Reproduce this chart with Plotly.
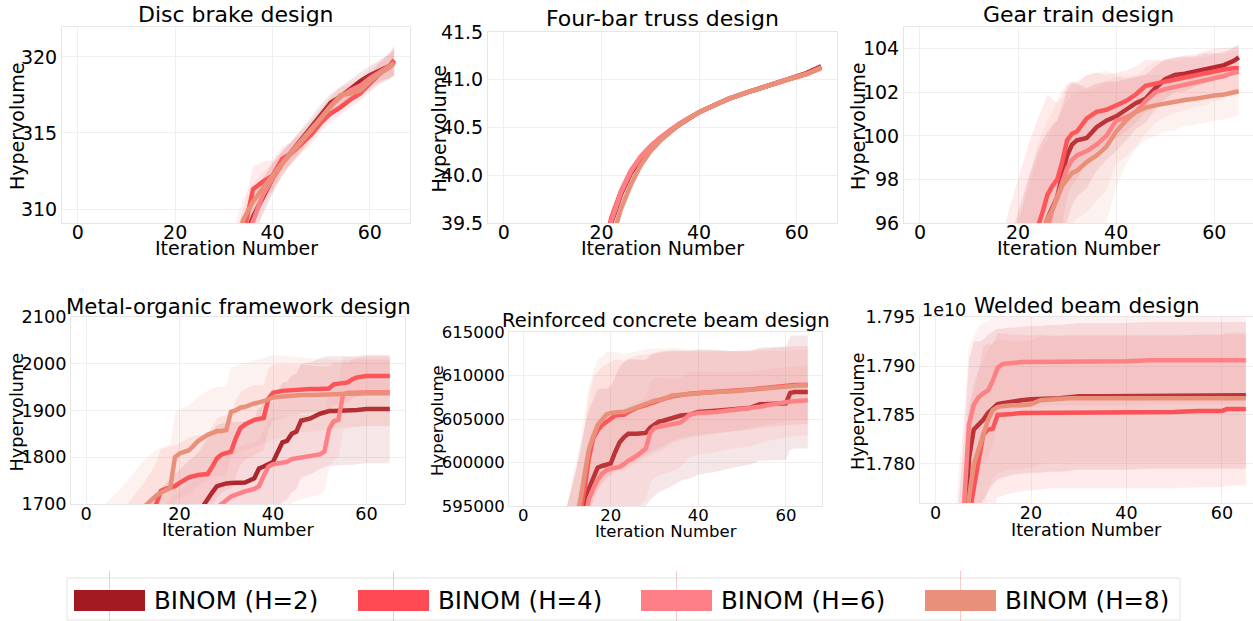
import plotly.graph_objects as go

W, H = 1253, 621

SERIES = ["BINOM (H=2)", "BINOM (H=4)", "BINOM (H=6)", "BINOM (H=8)"]
COLORS = ["#A31A22", "#FF4A53", "#FF7F86", "#E8907A"]
X_TICKS = [0, 20, 40, 60]

# ---------------- Disc brake design ----------------
disc_x = [30, 32, 34, 36, 38, 40, 42, 44, 46, 48, 50, 52, 54, 56, 58, 60, 62, 64, 65]
disc_h2 = [304.5, 306.0, 307.8, 309.5, 310.8, 312.0, 313.0, 313.8, 314.6, 315.5, 316.3, 317.0, 317.4, 317.9, 318.4, 318.8, 319.1, 319.4, 319.7]
disc_h4 = [305.0, 306.5, 308.3, 311.3, 311.8, 312.2, 313.3, 313.7, 314.3, 314.9, 315.7, 316.3, 316.7, 317.2, 317.6, 318.3, 318.9, 319.4, 319.8]
disc_h6 = [304.5, 306.0, 307.5, 309.2, 310.9, 312.0, 313.0, 313.8, 314.5, 315.2, 316.0, 316.8, 317.4, 317.8, 318.1, 318.6, 319.0, 319.4, 319.6]
disc_h8 = [305.5, 307.3, 309.3, 310.5, 311.4, 312.2, 313.0, 313.7, 314.4, 315.2, 316.0, 316.8, 317.5, 317.6, 317.8, 318.4, 318.9, 319.3, 319.6]
disc_s2 = [1.6, 1.6, 1.5, 1.4, 1.2, 1.0, 0.8, 0.7, 0.7, 0.6, 0.6, 0.6, 0.6, 0.6, 0.6, 0.6, 0.7, 0.8, 0.9]
disc_s4 = [1.8, 1.8, 1.7, 1.5, 1.3, 1.0, 0.8, 0.7, 0.6, 0.6, 0.6, 0.6, 0.5, 0.5, 0.5, 0.6, 0.7, 0.8, 1.0]
disc_s6 = [1.5, 1.5, 1.4, 1.3, 1.1, 0.9, 0.8, 0.7, 0.7, 0.6, 0.6, 0.6, 0.6, 0.6, 0.6, 0.6, 0.7, 0.8, 0.9]
disc_s8 = [1.5, 1.5, 1.4, 1.2, 1.0, 0.9, 0.8, 0.7, 0.7, 0.6, 0.6, 0.6, 0.6, 0.5, 0.5, 0.6, 0.7, 0.8, 0.8]

# ---------------- Four-bar truss design ----------------
four_x = [18, 20, 22, 24, 26, 28, 30, 32, 34, 36, 38, 40, 43, 46, 50, 54, 58, 62, 65]
four_h2 = [38.6, 39.1, 39.5, 39.8, 40.02, 40.17, 40.29, 40.38, 40.46, 40.53, 40.60, 40.66, 40.73, 40.80, 40.87, 40.94, 41.00, 41.07, 41.14]
four_h4 = [38.7, 39.15, 39.55, 39.83, 40.04, 40.19, 40.30, 40.39, 40.47, 40.54, 40.60, 40.66, 40.73, 40.80, 40.87, 40.94, 41.00, 41.06, 41.13]
four_h6 = [38.65, 39.12, 39.52, 39.82, 40.04, 40.19, 40.30, 40.39, 40.47, 40.54, 40.60, 40.66, 40.73, 40.80, 40.87, 40.94, 41.00, 41.06, 41.13]
four_h8 = [38.4, 38.9, 39.3, 39.65, 39.9, 40.1, 40.25, 40.36, 40.45, 40.53, 40.60, 40.66, 40.73, 40.80, 40.87, 40.94, 41.00, 41.06, 41.12]
four_s2 = [0.15, 0.12, 0.10, 0.08, 0.06, 0.05, 0.04, 0.04, 0.03, 0.03, 0.03, 0.02, 0.02, 0.02, 0.02, 0.02, 0.02, 0.02, 0.02]
four_s4 = [0.15, 0.12, 0.10, 0.08, 0.06, 0.05, 0.04, 0.04, 0.03, 0.03, 0.03, 0.02, 0.02, 0.02, 0.02, 0.02, 0.02, 0.02, 0.02]
four_s6 = [0.15, 0.12, 0.10, 0.08, 0.06, 0.05, 0.04, 0.04, 0.03, 0.03, 0.03, 0.02, 0.02, 0.02, 0.02, 0.02, 0.02, 0.02, 0.02]
four_s8 = [0.16, 0.13, 0.11, 0.09, 0.07, 0.05, 0.04, 0.04, 0.03, 0.03, 0.03, 0.02, 0.02, 0.02, 0.02, 0.02, 0.02, 0.02, 0.02]

# ---------------- Gear train design ----------------
gear_x = [16, 18, 20, 22, 24, 25, 26, 27, 28, 29, 30, 31, 32, 34, 36, 38, 40, 42, 44, 46, 48, 50, 52, 54, 56, 58, 60, 62, 64, 65]
gear_h2 = [87, 89, 91, 93, 94.8, 95.5, 96.2, 96.7, 97.2, 98.2, 99.1, 99.6, 99.8, 99.9, 100.4, 100.7, 100.9, 101.2, 101.5, 101.7, 102.2, 102.6, 102.8, 102.85, 102.95, 103.1, 103.2, 103.25, 103.45, 103.6]
gear_h4 = [88, 90, 92, 94, 95.8, 96.5, 97.3, 97.7, 98.0, 98.8, 99.8, 100.1, 100.2, 100.8, 101.1, 101.2, 101.4, 101.6, 101.9, 102.3, 102.4, 102.5, 102.6, 102.7, 102.75, 102.9, 103.0, 103.05, 103.1, 103.1]
gear_h6 = [86.5, 88.5, 90.5, 92.5, 94.5, 95.2, 95.8, 96.6, 97.2, 97.9, 98.5, 98.9, 99.1, 99.3, 99.6, 100.0, 100.7, 100.85, 101.1, 101.6, 102.0, 102.15, 102.25, 102.35, 102.45, 102.5, 102.65, 102.75, 102.9, 102.95]
gear_h8 = [87, 89, 91, 93, 95, 95.6, 96.2, 96.6, 97.2, 97.7, 98.0, 98.3, 98.4, 98.8, 99.1, 99.5, 100.2, 100.7, 101.1, 101.3, 101.4, 101.5, 101.55, 101.65, 101.7, 101.8, 101.85, 101.9, 102.0, 102.05]
gear_s2 = [6.0, 6.0, 5.5, 5.0, 4.5, 4.3, 4.0, 3.8, 3.5, 3.2, 3.0, 2.8, 2.6, 2.3, 2.0, 1.8, 1.6, 1.4, 1.2, 1.1, 1.0, 0.9, 0.8, 0.8, 0.7, 0.7, 0.6, 0.6, 0.6, 0.6]
gear_s4 = [6.5, 6.5, 6.0, 5.5, 5.0, 4.8, 4.6, 4.0, 3.5, 3.0, 2.6, 2.4, 2.2, 2.0, 1.8, 1.6, 1.5, 1.4, 1.3, 1.2, 1.1, 1.0, 1.0, 1.0, 1.0, 1.0, 1.0, 1.0, 1.0, 1.0]
gear_s6 = [6.0, 6.0, 5.5, 5.0, 4.5, 4.3, 4.0, 3.8, 3.5, 3.3, 3.1, 3.0, 2.9, 2.8, 2.6, 2.5, 2.0, 1.8, 1.6, 1.5, 1.4, 1.3, 1.2, 1.2, 1.1, 1.1, 1.1, 1.0, 1.0, 1.0]
gear_s8 = [5.5, 5.5, 5.0, 4.8, 4.6, 4.6, 4.5, 4.5, 4.5, 4.4, 4.3, 4.2, 4.1, 4.0, 3.8, 3.5, 2.6, 2.0, 1.7, 1.5, 1.4, 1.3, 1.3, 1.2, 1.2, 1.2, 1.15, 1.15, 1.1, 1.1]

# ---------------- Metal-organic framework design ----------------
mof_x = [0, 4, 8, 12, 14, 15, 16, 17, 18, 19, 20, 22, 24, 26, 27, 28, 29, 30, 31, 32, 33, 34, 36, 37, 38,
         39, 40, 42, 43, 44, 45, 46, 48, 50, 51, 52, 53, 54, 55, 56, 57, 58, 60, 62, 65]
mof_h2 = [1450, 1490, 1530, 1570, 1590, 1600, 1610, 1620, 1630, 1640, 1650, 1665, 1680, 1712, 1725,
          1738, 1742, 1744, 1745, 1746, 1746, 1746, 1755, 1776, 1780, 1785, 1790, 1832, 1835, 1850,
          1855, 1878, 1883, 1893, 1897, 1899, 1899, 1899, 1899, 1900, 1900, 1901, 1903, 1903, 1903]
mof_h4 = [1520, 1560, 1600, 1650, 1680, 1700, 1728, 1732, 1736, 1738, 1745, 1757, 1762, 1764, 1780,
          1798, 1806, 1810, 1812, 1840, 1862, 1870, 1880, 1882, 1884, 1925, 1938, 1942, 1943, 1944,
          1945, 1946, 1946, 1946, 1946, 1947, 1956, 1957, 1958, 1960, 1967, 1971, 1974, 1974, 1974]
mof_h6 = [1450, 1480, 1510, 1550, 1570, 1580, 1590, 1600, 1610, 1620, 1630, 1645, 1660, 1675, 1685,
          1692, 1700, 1708, 1716, 1720, 1724, 1727, 1732, 1738, 1760, 1780, 1785, 1788, 1790, 1796,
          1798, 1800, 1802, 1806, 1812, 1860, 1877, 1880, 1935, 1938, 1938, 1939, 1939, 1939, 1939]
mof_h8 = [1560, 1600, 1640, 1690, 1710, 1718, 1724, 1728, 1734, 1800, 1808, 1815, 1835, 1848, 1853,
          1856, 1856, 1858, 1897, 1900, 1906, 1908, 1915, 1917, 1920, 1924, 1928, 1930, 1931, 1932,
          1932, 1933, 1933, 1934, 1934, 1935, 1935, 1935, 1936, 1936, 1936, 1936, 1937, 1937, 1937]
mof_s2 = [120, 120, 120, 125, 125, 125, 125, 125, 125, 125, 125, 128, 130, 130, 130,
          130, 130, 130, 130, 130, 130, 130, 130, 130, 130, 130, 130, 128, 126, 125,
          124, 122, 120, 118, 118, 117, 117, 116, 116, 116, 116, 116, 116, 116, 116]
mof_s4 = [90, 90, 90, 90, 90, 90, 90, 88, 88, 86, 85, 85, 85, 85, 85,
          85, 82, 80, 80, 80, 78, 76, 75, 72, 70, 65, 60, 58, 56, 55,
          54, 52, 50, 48, 48, 47, 46, 45, 44, 43, 42, 42, 42, 42, 42]
mof_s6 = [100, 100, 100, 100, 100, 100, 100, 100, 100, 100, 100, 100, 100, 100, 100,
          100, 100, 100, 100, 100, 100, 100, 100, 100, 100, 100, 100, 98, 96, 94,
          92, 90, 88, 86, 85, 84, 82, 80, 78, 76, 74, 74, 72, 72, 72]
mof_s8 = [100, 100, 100, 100, 98, 98, 96, 95, 95, 95, 95, 95, 95, 95, 95,
          95, 95, 95, 95, 94, 94, 93, 93, 92, 92, 91, 90, 88, 86, 84,
          82, 80, 78, 76, 75, 74, 73, 72, 72, 71, 71, 70, 70, 70, 70]

# ---------------- Reinforced concrete beam design ----------------
conc_x = [8, 10, 12, 13, 14, 15, 16, 17, 18, 19, 20, 21, 22, 23, 24, 26, 28, 29, 30, 31, 32, 34, 36, 38, 40,
          44, 48, 52, 54, 56, 58, 60, 61, 62, 65]
conc_h2 = [582000, 586000, 590000, 592500, 595000, 597000, 598200, 599400, 599600, 599700,
           599900, 601200, 602300, 602900, 603300, 603300, 603400, 604000, 604300, 604700,
           604800, 605100, 605400, 605500, 605800, 605950, 606100, 606300, 606700, 606750,
           606750, 606800, 608000, 608100, 608100]
conc_h4 = [584000, 588000, 592000, 594000, 597000, 600500, 602800, 603700, 604300, 604700,
           605000, 605400, 605500, 605500, 605800, 606300, 606600, 606800, 607000, 607100,
           607300, 607600, 607800, 607900, 608000, 608100, 608200, 608400, 608500, 608600,
           608700, 608800, 608850, 608900, 608900]
conc_h6 = [580000, 584000, 588000, 590500, 593500, 595800, 597000, 598000, 598700, 599100,
           599300, 599400, 599500, 599800, 600200, 600800, 601600, 603400, 604000, 604100,
           604200, 604300, 604600, 605500, 605700, 605800, 606000, 606200, 606400, 606600,
           606800, 606900, 607000, 607050, 607150]
conc_h8 = [585000, 589000, 593500, 595500, 598500, 601500, 603000, 604300, 604900, 605500,
           605700, 605800, 605800, 605800, 606000, 606400, 606800, 607000, 607100, 607200,
           607300, 607700, 607800, 607900, 608000, 608100, 608200, 608400, 608500, 608600,
           608700, 608800, 608850, 608900, 608950]
conc_s2 = [9000, 9000, 9000, 9000, 9000, 9000, 9000, 9000, 8900, 8800, 8800, 8700, 8700, 8600, 8600,
           8500, 8400, 8300, 8200, 8100, 8000, 7800, 7500, 7350, 7200, 7000, 6700, 6500, 6500, 6500,
           6500, 6500, 6500, 6500, 6500]
conc_s4 = [7000, 7000, 7000, 7000, 7000, 7000, 6900, 6800, 6700, 6600, 6500, 6400, 6300, 6200, 6100,
           6000, 5800, 5700, 5600, 5500, 5400, 5200, 5000, 4900, 4800, 4700, 4600, 4600, 4500, 4500,
           4500, 4500, 4500, 4500, 4500]
conc_s6 = [7000, 7000, 7000, 7000, 7000, 7000, 7000, 7000, 6900, 6800, 6700, 6600, 6500, 6400, 6300,
           6100, 5900, 5800, 5700, 5600, 5500, 5300, 5100, 4900, 4800, 4600, 4400, 4300, 4200, 4100,
           4100, 4000, 4000, 4000, 4000]
conc_s8 = [6000, 6000, 6500, 6800, 7000, 7200, 7500, 7500, 7300, 7200, 7000, 6900, 6800, 6700, 6600,
           6400, 6200, 6100, 6000, 5900, 5800, 5500, 5300, 5100, 5000, 4800, 4600, 4400, 4300, 4200,
           4100, 4000, 4000, 4000, 4000]

# ---------------- Welded beam design (values in units of 1e10) ----------------
weld_x = [4, 5, 6, 7, 8, 9, 10, 11, 12, 13, 14, 15, 16, 18, 20, 22, 24, 26, 28, 30, 35, 40, 45, 50, 55, 58, 60, 61, 62, 65]
weld_h2 = [1.755, 1.763, 1.771, 1.7805, 1.7835, 1.7840, 1.7845, 1.7852, 1.7857, 1.7861,
           1.7862, 1.7863, 1.7864, 1.7865, 1.7866, 1.7866, 1.7867, 1.7867, 1.7868, 1.7869,
           1.7869, 1.7869, 1.7870, 1.7870, 1.7870, 1.7870, 1.7870, 1.7870, 1.7870, 1.7870]
weld_h4 = [1.750, 1.758, 1.766, 1.7745, 1.7775, 1.7800, 1.7830, 1.7835, 1.7836, 1.7850,
           1.7850, 1.7851, 1.7851, 1.7852, 1.7852, 1.7853, 1.7853, 1.7853, 1.7853, 1.7853,
           1.7853, 1.7853, 1.7853, 1.7853, 1.7854, 1.7854, 1.7854, 1.7856, 1.7856, 1.7856]
weld_h6 = [1.760, 1.768, 1.775, 1.7840, 1.7860, 1.7868, 1.7872, 1.7875, 1.7885, 1.7898,
           1.7902, 1.7903, 1.7903, 1.7904, 1.7904, 1.7904, 1.7905, 1.7905, 1.7905, 1.7905,
           1.7905, 1.7905, 1.7906, 1.7906, 1.7906, 1.7906, 1.7906, 1.7906, 1.7906, 1.7906]
weld_h8 = [1.752, 1.760, 1.768, 1.7765, 1.7799, 1.7815, 1.7830, 1.7845, 1.7855, 1.7858,
           1.7859, 1.7860, 1.7860, 1.7860, 1.7861, 1.7865, 1.7866, 1.7866, 1.7867, 1.7867,
           1.7867, 1.7867, 1.7867, 1.7867, 1.7867, 1.7867, 1.7867, 1.7867, 1.7867, 1.7867]
weld_s2 = [0.016, 0.014, 0.012, 0.010, 0.009, 0.0085, 0.0082, 0.008, 0.0078, 0.0077,
           0.0076, 0.0076, 0.0075, 0.0075, 0.0075, 0.0075, 0.0075, 0.0075, 0.0075, 0.0075,
           0.0075, 0.0075, 0.0075, 0.0075, 0.0075, 0.0075, 0.0075, 0.0075, 0.0075, 0.0075]
weld_s4 = [0.016, 0.014, 0.012, 0.011, 0.010, 0.0095, 0.009, 0.0088, 0.0086, 0.0084,
           0.0083, 0.0082, 0.0081, 0.008, 0.0079, 0.0079, 0.0078, 0.0078, 0.0078, 0.0078,
           0.0078, 0.0078, 0.0078, 0.0078, 0.0078, 0.0078, 0.0078, 0.0078, 0.0078, 0.0078]
weld_s6 = [0.014, 0.012, 0.010, 0.008, 0.0070, 0.0072, 0.0072, 0.0070, 0.0064, 0.0056,
           0.0052, 0.0050, 0.0048, 0.0047, 0.0046, 0.0046, 0.0045, 0.0045, 0.0045, 0.0045,
           0.0045, 0.0045, 0.0045, 0.0045, 0.0045, 0.0045, 0.0045, 0.0045, 0.0045, 0.0045]
weld_s8 = [0.015, 0.013, 0.011, 0.0095, 0.0085, 0.008, 0.0075, 0.0072, 0.007, 0.0068,
           0.0067, 0.0066, 0.0065, 0.0065, 0.0065, 0.0065, 0.0065, 0.0065, 0.0065, 0.0065,
           0.0065, 0.0065, 0.0065, 0.0065, 0.0065, 0.0065, 0.0065, 0.0065, 0.0065, 0.0065]

# ---------------- panel layout (pixel geometry) ----------------
panels = [
    dict(title="Disc brake design", x=disc_x, means=[disc_h2, disc_h4, disc_h6, disc_h8],
         stds=[disc_s2, disc_s4, disc_s6, disc_s8], box=(62, 410, 27, 223),
         xr=[-3.25, 68.25], yr=[309.08, 321.97], yt=[310, 315, 320], yfmt="d",
         fs=19, tfs=22, title_y=15, xl_y=248, yl_x=17, xso=-8),
    dict(title="Four-bar truss design", x=four_x, means=[four_h2, four_h4, four_h6, four_h8],
         stds=[four_s2, four_s4, four_s6, four_s8], box=(488, 837, 32, 223),
         xr=[-3.25, 68.25], yr=[39.4999, 41.5001], yt=[39.5, 40.0, 40.5, 41.0, 41.5], yfmt=".1f",
         fs=19, tfs=22, title_y=18, xl_y=248, yl_x=438, xso=-8),
    dict(title="Gear train design", x=gear_x, means=[gear_h2, gear_h4, gear_h6, gear_h8],
         stds=[gear_s2, gear_s4, gear_s6, gear_s8], box=(904, 1253, 27, 223),
         xr=[-3.25, 67.9], yr=[95.999, 105.0], yt=[96, 98, 100, 102, 104], yfmt="d",
         fs=19, tfs=22, title_y=15, xl_y=248, yl_x=858, xso=-8),
    dict(title="Metal-organic framework design", x=mof_x, means=[mof_h2, mof_h4, mof_h6, mof_h8],
         stds=[mof_s2, mof_s4, mof_s6, mof_s8], box=(71, 405, 317, 504),
         xr=[-3.25, 68.25], yr=[1699.9, 2100.1], yt=[1700, 1800, 1900, 2000, 2100], yfmt="d",
         fs=17.7, tfs=21.3, title_y=306, xl_y=530, yl_x=17, xso=-6),
    dict(title="Reinforced concrete beam design", x=conc_x, means=[conc_h2, conc_h4, conc_h6, conc_h8],
         stds=[conc_s2, conc_s4, conc_s6, conc_s8], box=(509, 822, 332, 506),
         xr=[-3.25, 68.25], yr=[594999, 615001], yt=[595000, 600000, 605000, 610000, 615000], yfmt="d",
         fs=16.5, tfs=19.5, title_y=320, xl_y=531, yl_x=437, xso=-6),
    dict(title="Welded beam design", x=weld_x, means=[weld_h2, weld_h4, weld_h6, weld_h8],
         stds=[weld_s2, weld_s4, weld_s6, weld_s8], box=(920, 1253, 317, 503),
         xr=[-3.25, 66.5], yr=[1.776, 1.79501], yt=[1.780, 1.785, 1.790, 1.795], yfmt=".3f",
         fs=17.5, tfs=21.5, title_y=305, xl_y=530, yl_x=858, xso=-6),
]


def rgba(hexc, a):
    h = hexc.lstrip("#")
    return "rgba(%d,%d,%d,%.3f)" % (int(h[0:2], 16), int(h[2:4], 16), int(h[4:6], 16), a)


def px(x):
    return x / W


def py(y):
    return 1 - y / H


FONT = "DejaVu Sans"
fig = go.Figure()
annotations = []
layout_axes = {}

for i, p in enumerate(panels, start=1):
    xa = "x" if i == 1 else "x%d" % i
    ya = "y" if i == 1 else "y%d" % i
    for m, s, c in zip(p["means"], p["stds"], COLORS):
        lo = [a - b for a, b in zip(m, s)]
        hi = [a + b for a, b in zip(m, s)]
        fig.add_trace(go.Scatter(x=p["x"], y=lo, mode="lines", line=dict(width=0, color=c),
                                 xaxis=xa, yaxis=ya, showlegend=False, hoverinfo="skip"))
        fig.add_trace(go.Scatter(x=p["x"], y=hi, mode="lines", line=dict(width=0, color=c),
                                 fill="tonexty", fillcolor=rgba(c, 0.11),
                                 xaxis=xa, yaxis=ya, showlegend=False, hoverinfo="skip"))
        fig.add_trace(go.Scatter(x=p["x"], y=m, mode="lines", line=dict(width=4.5, color=c),
                                 xaxis=xa, yaxis=ya, showlegend=False))
    x0, x1, y0, y1 = p["box"]
    xkey = "xaxis" if i == 1 else "xaxis%d" % i
    ykey = "yaxis" if i == 1 else "yaxis%d" % i
    common = dict(showgrid=True, gridcolor="#efefef", gridwidth=1, zeroline=False,
                  showline=True, mirror=True, linecolor="#e6e6e6", linewidth=1, automargin=False,
                  ticks="", tickfont=dict(family=FONT, size=p["fs"], color="#000000"))
    layout_axes[xkey] = dict(domain=[px(x0), px(x1)], range=p["xr"], anchor=ya,
                             tickvals=X_TICKS, ticklabelstandoff=p["xso"], **common)
    layout_axes[ykey] = dict(domain=[py(y1), py(y0)], range=p["yr"], anchor=xa,
                             tickvals=p["yt"], tickformat=p["yfmt"], **common)
    cx = (x0 + x1) / 2
    annotations.append(dict(text=p["title"], x=px(cx), y=py(p["title_y"]), xref="paper", yref="paper",
                            xanchor="center", yanchor="middle", showarrow=False,
                            font=dict(family=FONT, size=p["tfs"], color="#000000")))
    annotations.append(dict(text="Iteration Number", x=px(cx), y=py(p["xl_y"]), xref="paper", yref="paper",
                            xanchor="center", yanchor="middle", showarrow=False,
                            font=dict(family=FONT, size=p["fs"], color="#000000")))
    annotations.append(dict(text="Hypervolume", x=px(p["yl_x"]), y=py((y0 + y1) / 2 + 2), xref="paper",
                            yref="paper", xanchor="center", yanchor="middle", showarrow=False,
                            textangle=-90, font=dict(family=FONT, size=p["fs"], color="#000000")))

# offset text of the welded beam panel
annotations.append(dict(text="1e10", x=px(920), y=py(310), xref="paper", yref="paper",
                        xanchor="left", yanchor="middle", showarrow=False,
                        font=dict(family=FONT, size=17.5, color="#000000")))

# ---------------- manual legend ----------------
shapes = []
shapes.append(dict(type="rect", xref="paper", yref="paper", x0=px(67), x1=px(1180), y0=py(620), y1=py(578),
                   line=dict(color="#e3e3e3", width=1), fillcolor="rgba(255,255,255,0.8)", layer="above"))
offsets = [0, 284, 567, 851]
for off, c, name in zip(offsets, COLORS, SERIES):
    shapes.append(dict(type="line", xref="paper", yref="paper", x0=px(109.5 + off), x1=px(109.5 + off),
                       y0=py(621), y1=py(571), line=dict(color="rgba(240,160,160,0.55)", width=1),
                       layer="above"))
    shapes.append(dict(type="rect", xref="paper", yref="paper", x0=px(74 + off), x1=px(145 + off),
                       y0=py(611), y1=py(590), line=dict(width=0), fillcolor=c, layer="above"))
    annotations.append(dict(text=name, x=px(152 + off), y=py(600), xref="paper", yref="paper",
                            xanchor="left", yanchor="middle", showarrow=False,
                            font=dict(family=FONT, size=24.5, color="#000000")))

fig.update_layout(width=W, height=H, autosize=False, margin=dict(l=0, r=0, t=0, b=0, pad=0),
                  paper_bgcolor="white", plot_bgcolor="white", showlegend=False,
                  annotations=annotations, shapes=shapes, **layout_axes)

fig.write_html("out.html")
